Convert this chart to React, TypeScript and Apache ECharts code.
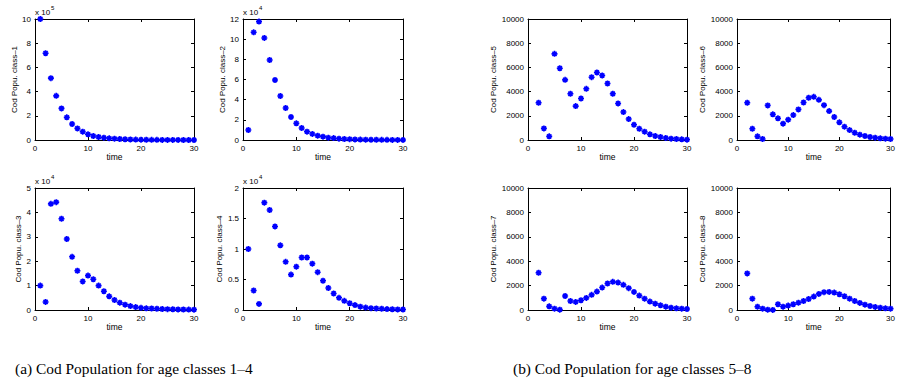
import React, { useEffect, useRef } from "react";
import * as echarts from "echarts";

const TIME = [1, 2, 3, 4, 5, 6, 7, 8, 9, 10, 11, 12, 13, 14, 15, 16, 17, 18, 19, 20, 21, 22, 23, 24, 25, 26, 27, 28, 29, 30];

const CLASS1 = [1000000, 717000, 511000, 365000, 261000, 187000, 132000, 96000, 69000, 47000, 33000, 25000, 19000, 14000, 11000, 8000, 6000, 4500, 3500, 2500, 2000, 1500, 1200, 900, 700, 500, 400, 300, 250, 200];
const CLASS2 = [9900, 106800, 117400, 101200, 79300, 59500, 43600, 31700, 22800, 16500, 11900, 8300, 6000, 4300, 3300, 2300, 1900, 1300, 1000, 800, 600, 450, 350, 280, 220, 170, 130, 100, 80, 60];
const CLASS3 = [10000, 3300, 43500, 44200, 37400, 29100, 21800, 16100, 11700, 14100, 12600, 10000, 7700, 5600, 4100, 3000, 2200, 1600, 1200, 900, 700, 600, 500, 400, 350, 300, 250, 200, 180, 150];
const CLASS4 = [10000, 3200, 1000, 17600, 16400, 13700, 10600, 7900, 5800, 7100, 8600, 8600, 7600, 6200, 4800, 3600, 2700, 2000, 1500, 1100, 800, 550, 400, 300, 250, 200, 150, 120, 100, 80];
const CLASS5 = [null, 3080, 960, 300, 7120, 5930, 4970, 3820, 2800, 3430, 4230, 5190, 5580, 5330, 4670, 3820, 3020, 2310, 1730, 1260, 930, 690, 470, 330, 250, 165, 110, 80, 55, 30];
const CLASS6 = [null, 3080, 930, 300, 80, 2860, 2120, 1790, 1350, 1680, 2060, 2530, 3100, 3490, 3570, 3320, 2880, 2390, 1900, 1460, 1100, 820, 600, 440, 330, 250, 190, 140, 110, 80];
const CLASS7 = [null, 3050, 930, 300, 110, 30, 1150, 740, 660, 800, 990, 1240, 1510, 1840, 2170, 2310, 2250, 2060, 1790, 1480, 1180, 930, 690, 520, 385, 275, 190, 140, 110, 80];
const CLASS8 = [null, 3000, 930, 270, 110, 30, 10, 470, 270, 360, 470, 600, 740, 900, 1100, 1320, 1460, 1480, 1430, 1290, 1130, 930, 740, 580, 440, 330, 250, 190, 140, 110];

const SERIES_VALUES = [CLASS1, CLASS2, CLASS3, CLASS4, CLASS5, CLASS6, CLASS7, CLASS8];
const Y_NAMES = [
  "Cod Popu. class\u20131", "Cod Popu. class\u20132", "Cod Popu. class\u20133", "Cod Popu. class\u20134",
  "Cod Popu. class\u20135", "Cod Popu. class\u20136", "Cod Popu. class\u20137", "Cod Popu. class\u20138",
];
const Y_MAX = [1000000, 120000, 50000, 20000, 10000, 10000, 10000, 10000];
const Y_INTERVAL = [200000, 20000, 10000, 5000, 2000, 2000, 2000, 2000];
const Y_SCALE = [100000, 10000, 10000, 10000, 1, 1, 1, 1];
const Y_EXP = ["5", "4", "4", "4", "", "", "", ""];
const X_TICKS = { min: 0, max: 30, interval: 10 };
const CAPTIONS = ["(a) Cod Population for age classes 1\u20134", "(b) Cod Population for age classes 5\u20138"];

// layout (pixels)
const GRIDS = [
  { left: 35, top: 19, width: 159, height: 121 },
  { left: 243, top: 19, width: 160, height: 121 },
  { left: 35, top: 188, width: 159, height: 122 },
  { left: 243, top: 188, width: 160, height: 122 },
  { left: 528, top: 19, width: 159, height: 121 },
  { left: 737, top: 19, width: 160, height: 121 },
  { left: 528, top: 188, width: 159, height: 122 },
  { left: 737, top: 188, width: 160, height: 122 },
];
const NAME_GAPS = [16, 16, 12, 18, 30, 30, 30, 30];

const SANS = "Liberation Sans";
const ASTERISK = "path://M0,5L10,5M5,0L5,10M1.5,1.5L8.5,8.5M1.5,8.5L8.5,1.5";

export default function App() {
  const ref = useRef<HTMLDivElement>(null);
  useEffect(() => {
    if (!ref.current) return;
    const chart = echarts.init(ref.current, undefined, { renderer: "svg" });
    const xAxis: any[] = [];
    const yAxis: any[] = [];
    const series: any[] = [];
    const graphic: any[] = [];
    const line = { show: true, onZero: false, lineStyle: { color: "#000", width: 1 } };
    const tick = { show: true, inside: true, length: 3, lineStyle: { color: "#000", width: 1 } };
    GRIDS.forEach((g, i) => {
      xAxis.push({
        gridIndex: i, type: "value", position: "bottom", ...X_TICKS,
        axisLine: line, axisTick: tick, splitLine: { show: false },
        axisLabel: { fontSize: 8, color: "#000", margin: 4, fontFamily: SANS },
        name: "time", nameLocation: "middle", nameGap: 12,
        nameTextStyle: { fontSize: 8.5, color: "#000", fontFamily: SANS },
      });
      xAxis.push({
        gridIndex: i, type: "value", position: "top", ...X_TICKS,
        axisLine: line, axisTick: tick, splitLine: { show: false }, axisLabel: { show: false },
      });
      const scale = Y_SCALE[i];
      yAxis.push({
        gridIndex: i, type: "value", position: "left", min: 0, max: Y_MAX[i], interval: Y_INTERVAL[i],
        axisLine: line, axisTick: tick, splitLine: { show: false },
        axisLabel: {
          fontSize: 8, color: "#000", margin: 4, fontFamily: SANS,
          formatter: (v: number) => String(+(v / scale).toFixed(2)),
        },
        name: Y_NAMES[i], nameLocation: "middle", nameGap: NAME_GAPS[i], nameRotate: 90,
        nameTextStyle: { fontSize: 8, color: "#000", fontFamily: SANS },
      });
      yAxis.push({
        gridIndex: i, type: "value", position: "right", min: 0, max: Y_MAX[i], interval: Y_INTERVAL[i],
        axisLine: line, axisTick: tick, splitLine: { show: false }, axisLabel: { show: false },
      });
      const vals = SERIES_VALUES[i];
      const data = TIME.map((t, k) => [t, vals[k]]).filter((d) => d[1] !== null);
      series.push({
        type: "scatter", xAxisIndex: 2 * i, yAxisIndex: 2 * i, data,
        symbol: ASTERISK, symbolSize: 6,
        itemStyle: { color: "#0000ff", borderColor: "#0000ff", borderWidth: 1.6, opacity: 1 },
      });
      if (Y_EXP[i]) {
        graphic.push({
          type: "text", left: g.left, top: g.top - 11,
          style: { text: "x 10", font: `8px "${SANS}"`, fill: "#000" },
        });
        graphic.push({
          type: "text", left: g.left + 16, top: g.top - 14,
          style: { text: Y_EXP[i], font: `6px "${SANS}"`, fill: "#000" },
        });
      }
    });
    graphic.push({
      type: "text", left: 15, top: 361,
      style: { text: CAPTIONS[0], font: '15.4px "Liberation Serif"', fill: "#000" },
    });
    graphic.push({
      type: "text", left: 513, top: 361,
      style: { text: CAPTIONS[1], font: '15.4px "Liberation Serif"', fill: "#000" },
    });
    chart.setOption({
      animation: false,
      backgroundColor: "#fff",
      grid: GRIDS.map((g) => ({ ...g, containLabel: false })),
      xAxis, yAxis, series, graphic,
    });
    return () => chart.dispose();
  }, []);
  return <div ref={ref} style={{ position: "fixed", left: 0, top: 0, width: 898, height: 391 }} />;
}
